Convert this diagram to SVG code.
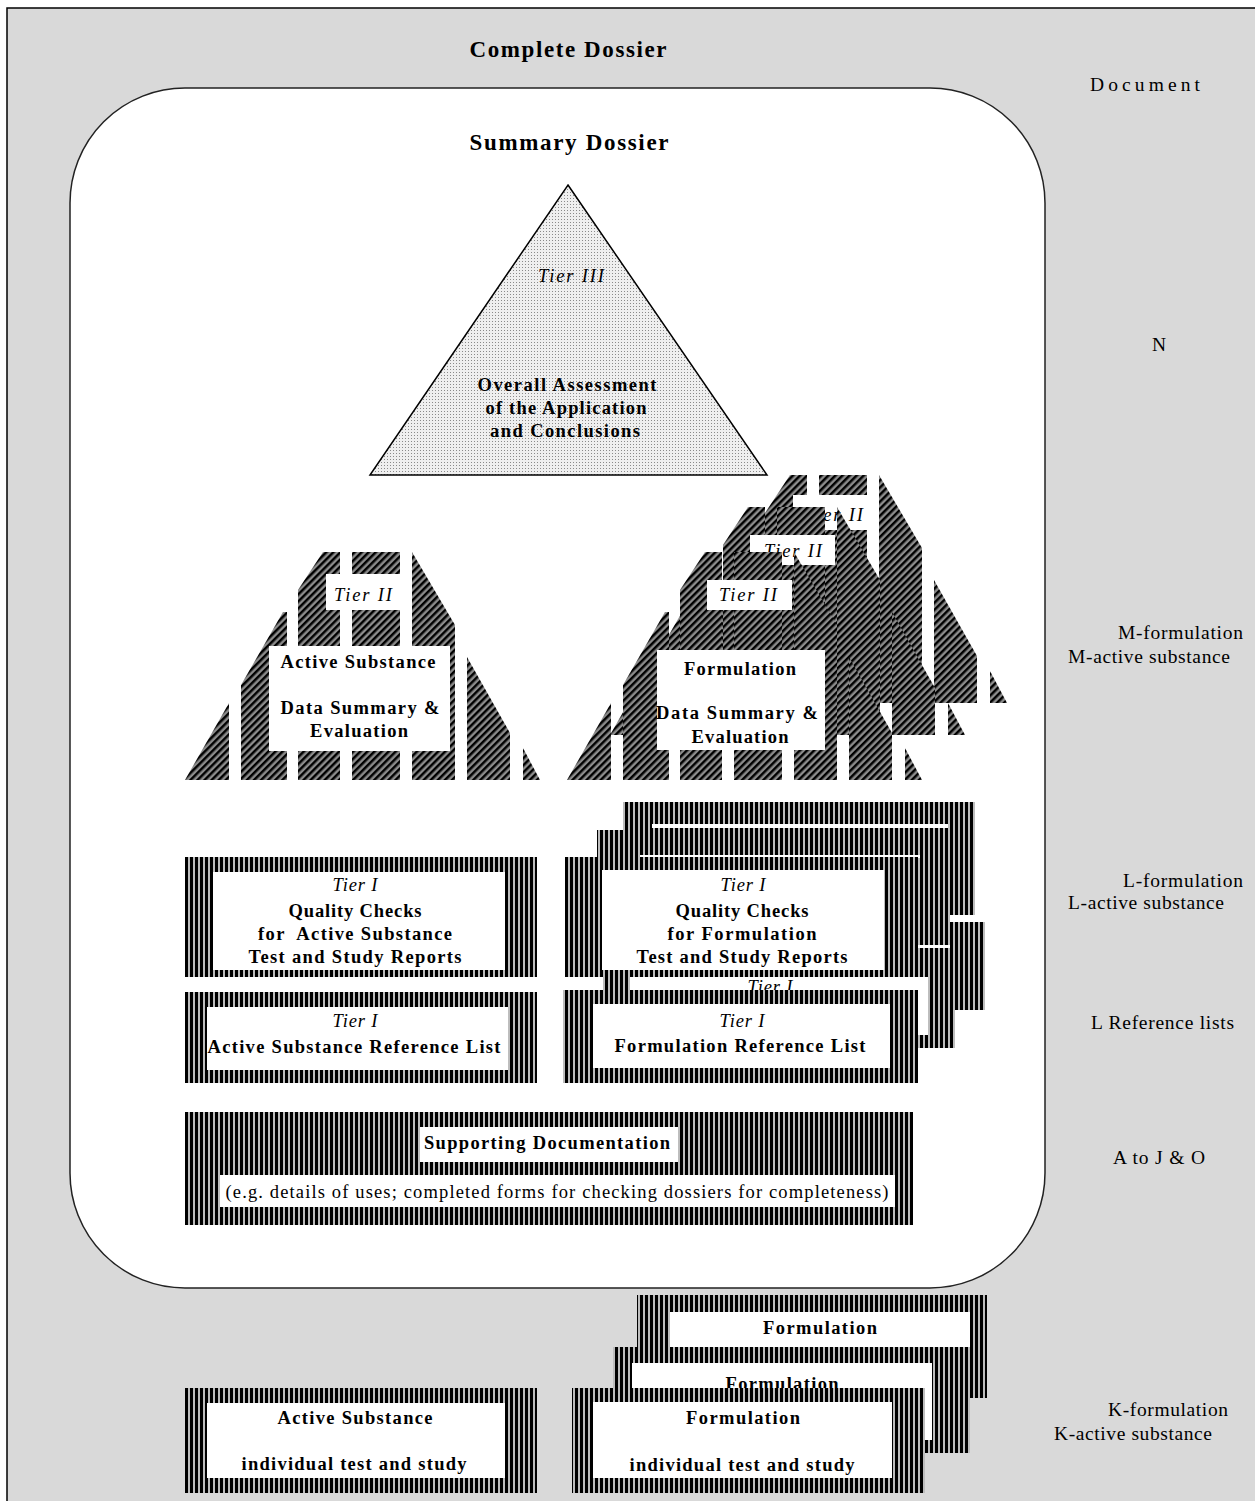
<svg xmlns="http://www.w3.org/2000/svg" width="1255" height="1501" viewBox="0 0 1255 1501">
<style>
.t{font-family:"Liberation Serif","Times New Roman",serif;font-size:18.5px;fill:#000}
.b{font-weight:bold}
.i{font-style:italic}
.c{text-anchor:middle}
.lbl{font-size:19.5px}
.ttl{font-size:23px;font-weight:bold}
.vs{fill:url(#vstripe)}
.hx{fill:url(#hatch)}
.w{fill:#fff}
.pre{white-space:pre}
</style>
<defs>
<pattern id="dots" width="3" height="3" patternUnits="userSpaceOnUse"><rect width="3" height="3" fill="#efefef"/><rect width="1" height="1" fill="#8a8a8a"/></pattern>
<pattern id="hatch" width="5" height="5" patternUnits="userSpaceOnUse" patternTransform="rotate(45)"><rect width="5" height="5" fill="#8c8c8c"/><rect width="2.5" height="5" fill="#000"/></pattern>
<pattern id="vstripe" width="5" height="5" patternUnits="userSpaceOnUse"><rect width="5" height="5" fill="#bdbdbd"/><rect width="3" height="5" fill="#000"/></pattern>
<g id="pyr" class="hx">
<polygon points="185,780 229,703 229,780"/>
<polygon points="241,780 241,685 283,612 287,612 287,780"/>
<polygon points="298,780 298,590 323,552 340,552 340,780"/>
<polygon points="352,552 400,552 400,780 352,780"/>
<polygon points="412,780 412,552 455,625 455,780"/>
<polygon points="467,780 467,657 510,733 510,780"/>
<polygon points="523,780 523,748 540,780"/>
</g>
</defs>
<rect x="0" y="0" width="1255" height="1501" fill="#fff"/>
<rect x="7" y="8" width="1260" height="1510" fill="#d9d9d9" stroke="#000" stroke-width="1.5"/>

<g id="complete-dossier">
<text class="t ttl c" x="568" y="57" textLength="197" lengthAdjust="spacing">Complete Dossier</text>
</g>

<g id="summary-dossier">
<rect x="70" y="88" width="975" height="1200" rx="115" ry="115" fill="#fff" stroke="#222" stroke-width="1.5"/>
<text class="t ttl c" x="569" y="150" textLength="199" lengthAdjust="spacing">Summary Dossier</text>
</g>

<g id="labels">
<text class="t lbl" x="1090" y="91" textLength="110" lengthAdjust="spacing">Document</text>
<text class="t lbl" x="1152" y="351">N</text>
<text class="t lbl" x="1118" y="639" textLength="125" lengthAdjust="spacing">M-formulation</text>
<text class="t lbl" x="1068" y="663" textLength="162" lengthAdjust="spacing">M-active substance</text>
<text class="t lbl" x="1123" y="887" textLength="120" lengthAdjust="spacing">L-formulation</text>
<text class="t lbl" x="1068" y="909" textLength="156" lengthAdjust="spacing">L-active substance</text>
<text class="t lbl" x="1091" y="1029" textLength="143" lengthAdjust="spacing">L Reference lists</text>
<text class="t lbl" x="1113" y="1164" textLength="92" lengthAdjust="spacing">A to J &amp; O</text>
<text class="t lbl" x="1108" y="1416" textLength="120" lengthAdjust="spacing">K-formulation</text>
<text class="t lbl" x="1054" y="1440" textLength="158" lengthAdjust="spacing">K-active substance</text>
</g>

<g id="tier3">
<polygon points="568,185 767,475 370,475" fill="url(#dots)" stroke="#000" stroke-width="1.5"/>
<text class="t i c" x="571" y="282" textLength="66" lengthAdjust="spacing">Tier III</text>
<text class="t b c" x="567" y="391" textLength="179" lengthAdjust="spacing">Overall Assessment</text>
<text class="t b c" x="566" y="414" textLength="161" lengthAdjust="spacing">of the Application</text>
<text class="t b c" x="565" y="437" textLength="150" lengthAdjust="spacing">and Conclusions</text>
</g>

<g id="tier2-active">
<use href="#pyr"/>
<rect class="w" x="326" y="574" width="74" height="36"/>
<text class="t i c" x="363" y="601" textLength="58" lengthAdjust="spacing">Tier II</text>
<rect class="w" x="269" y="646" width="181" height="105"/>
<text class="t b c" x="358" y="668" textLength="155" lengthAdjust="spacing">Active Substance</text>
<text class="t b c" x="360" y="714" textLength="159" lengthAdjust="spacing">Data Summary &amp;</text>
<text class="t b c" x="359" y="737" textLength="98" lengthAdjust="spacing">Evaluation</text>
</g>

<g id="tier2-formulation">
<use href="#pyr" x="467" y="-77"/>
<rect class="w" x="793" y="495" width="82" height="35"/>
<text class="t i c" x="834" y="521" textLength="58" lengthAdjust="spacing">Tier II</text>
<use href="#pyr" x="425" y="-45"/>
<rect class="w" x="750" y="535" width="85" height="30"/>
<text class="t i c" x="793" y="557" textLength="58" lengthAdjust="spacing">Tier II</text>
<use href="#pyr" x="382" y="0"/>
<rect class="w" x="707" y="580" width="85" height="30"/>
<text class="t i c" x="748" y="601" textLength="58" lengthAdjust="spacing">Tier II</text>
<rect class="w" x="657" y="650" width="168" height="100"/>
<text class="t b c" x="740" y="675" textLength="112" lengthAdjust="spacing">Formulation</text>
<text class="t b c" x="737" y="719" textLength="162" lengthAdjust="spacing">Data Summary &amp;</text>
<text class="t b c" x="740" y="743" textLength="97" lengthAdjust="spacing">Evaluation</text>
</g>

<g id="tier1-active-qc">
<rect class="vs" x="185" y="857" width="352" height="120"/>
<rect class="w" x="213" y="872" width="292" height="98"/>
<text class="t i c" x="355" y="891" textLength="45" lengthAdjust="spacing">Tier I</text>
<text class="t b c" x="355" y="917" textLength="133" lengthAdjust="spacing">Quality Checks</text>
<text class="t b c pre" x="355" y="940" textLength="194" lengthAdjust="spacing">for  Active Substance</text>
<text class="t b c" x="355" y="963" textLength="213" lengthAdjust="spacing">Test and Study Reports</text>
</g>

<g id="tier1-active-ref">
<rect class="vs" x="185" y="992" width="352" height="91"/>
<rect class="w" x="207" y="1007" width="301" height="63"/>
<text class="t i c" x="355" y="1027" textLength="45" lengthAdjust="spacing">Tier I</text>
<text class="t b c" x="354" y="1053" textLength="293" lengthAdjust="spacing">Active Substance Reference List</text>
</g>

<g id="tier1-formulation">
<rect class="vs" x="623" y="802" width="352" height="113"/>
<rect class="w" x="652" y="824" width="296" height="4"/>
<rect class="vs" x="950" y="922" width="35" height="88"/>
<rect class="vs" x="597" y="830" width="353" height="115"/>
<rect class="w" x="640" y="855" width="280" height="3"/>
<rect class="vs" x="603" y="948" width="352" height="100"/>
<rect class="w" x="630" y="977" width="298" height="58"/>
<text class="t i c" x="770" y="993" textLength="45" lengthAdjust="spacing">Tier I</text>
<rect class="vs" x="565" y="857" width="353" height="120"/>
<rect class="w" x="602" y="870" width="282" height="100"/>
<text class="t i c" x="743" y="891" textLength="45" lengthAdjust="spacing">Tier I</text>
<text class="t b c" x="742" y="917" textLength="133" lengthAdjust="spacing">Quality Checks</text>
<text class="t b c" x="742" y="940" textLength="149" lengthAdjust="spacing">for Formulation</text>
<text class="t b c" x="742" y="963" textLength="211" lengthAdjust="spacing">Test and Study Reports</text>
<rect class="vs" x="563" y="990" width="355" height="93"/>
<rect class="w" x="593" y="1004" width="297" height="64"/>
<text class="t i c" x="742" y="1027" textLength="45" lengthAdjust="spacing">Tier I</text>
<text class="t b c" x="740" y="1052" textLength="251" lengthAdjust="spacing">Formulation Reference List</text>
</g>

<g id="supporting-documentation">
<rect class="vs" x="185" y="1112" width="728" height="113"/>
<rect class="w" x="420" y="1127" width="258" height="35"/>
<text class="t b c" x="547" y="1149" textLength="246" lengthAdjust="spacing">Supporting Documentation</text>
<rect class="w" x="220" y="1175" width="675" height="32"/>
<text class="t c" x="557" y="1198" textLength="663" lengthAdjust="spacing">(e.g. details of uses; completed forms for checking dossiers for completeness)</text>
</g>

<g id="k-formulation">
<rect class="vs" x="637" y="1295" width="350" height="103"/>
<rect class="w" x="670" y="1312" width="300" height="60"/>
<text class="t b c" x="820" y="1334" textLength="114" lengthAdjust="spacing">Formulation</text>
<rect class="vs" x="613" y="1347" width="357" height="106"/>
<rect class="w" x="632" y="1363" width="300" height="77"/>
<text class="t b c" x="782" y="1390" textLength="113" lengthAdjust="spacing">Formulation</text>
<rect class="vs" x="572" y="1388" width="353" height="105"/>
<rect class="w" x="593" y="1402" width="299" height="76"/>
<text class="t b c" x="743" y="1424" textLength="114" lengthAdjust="spacing">Formulation</text>
<text class="t b c" x="742" y="1471" textLength="225" lengthAdjust="spacing">individual test and study</text>
</g>

<g id="k-active">
<rect class="vs" x="185" y="1388" width="352" height="105"/>
<rect class="w" x="207" y="1403" width="298" height="75"/>
<text class="t b c" x="355" y="1424" textLength="155" lengthAdjust="spacing">Active Substance</text>
<text class="t b c" x="354" y="1470" textLength="225" lengthAdjust="spacing">individual test and study</text>
</g>

<g id="connectors"/>
</svg>
